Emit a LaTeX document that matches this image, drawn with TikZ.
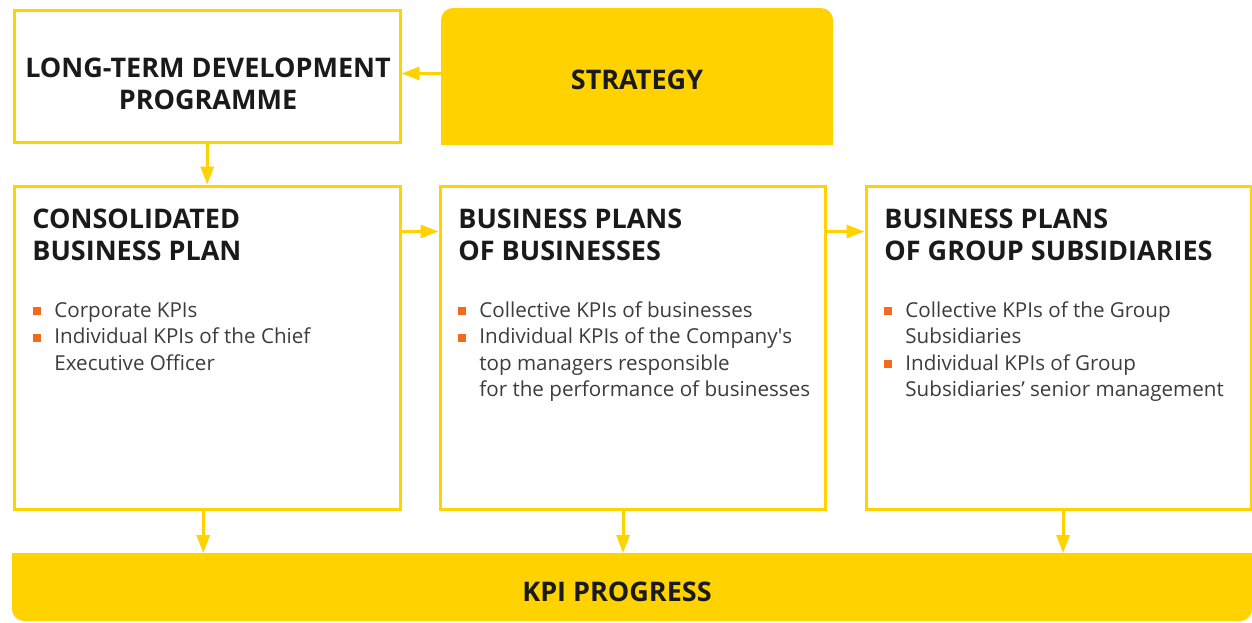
\documentclass[tikz,border=0pt]{standalone}
\usepackage{fontspec}
\setmainfont{Open Sans}
\usetikzlibrary{positioning,arrows.meta,backgrounds}

\definecolor{kpiyellow}{HTML}{FFD200}
\definecolor{kpiorange}{HTML}{F26A1B}
\definecolor{kpiblack}{HTML}{1A1A1A}
\definecolor{kpigrey}{HTML}{3C3C3C}

\newcommand{\kpibullet}{\makebox[10.5pt][l]{\raisebox{1pt}{\textcolor{kpiorange}{\rule{4pt}{4pt}}}}}
\newcommand{\kpiskip}{\hspace*{10.5pt}}
\newcommand{\kpilines}[1]{\begin{tabular}[t]{@{}l@{}}#1\end{tabular}}

\tikzset{
  >={Triangle[length=9pt,width=6.5pt]},
  planbox/.style={draw=kpiyellow, line width=1.5pt, anchor=north west, inner sep=0pt},
  fillbox/.style={fill=kpiyellow, anchor=north west, inner sep=0pt, outer sep=0pt, rounded corners=6pt},
  headtext/.style={anchor=base west, inner sep=0pt, text=kpiblack, font=\bfseries\fontsize{13.5}{16}\selectfont},
  titletext/.style={headtext, anchor=base},
  bodytext/.style={anchor=base west, inner sep=0pt, text=kpigrey, font=\fontsize{10.3}{13.25}\selectfont},
  flow/.style={draw=kpiyellow, line width=1.5pt, ->}
}

\begin{document}
\begin{tikzpicture}[x=0.5pt,y=-0.5pt]
  \useasboundingbox (0,0) rectangle (1252,622);

  % Draw the yellow boxes.
  \node[fillbox, minimum width=196pt, minimum height=68.5pt] (strategy) at (441,8) {};
  \node[fillbox, minimum width=620pt, minimum height=34pt] (kpi) at (12,553) {};
  \begin{scope}[on background layer]
    \fill[kpiyellow] (strategy.west) rectangle (strategy.south east);
    \fill[kpiyellow] (kpi.north west) rectangle (kpi.east);
  \end{scope}

  % Draw the plan boxes.
  \node[planbox, minimum width=192.75pt, minimum height=66pt] (ltdp) at (13,8.5) {};
  \node[planbox, minimum width=192.75pt, minimum height=161.5pt, below=20.5pt of ltdp] (cons) {};
  \node[planbox, minimum width=192.5pt, minimum height=161.5pt, right=18.5pt of cons] (bpb) {};
  \node[planbox, minimum width=192.5pt, minimum height=161.5pt, right=19pt of bpb] (grp) {};

  % Titles.
  \node[titletext] (strategytext) at (637,89) {STRATEGY};
  \node[titletext] (kpitext) at (617,601) {KPI PROGRESS};
  \node[titletext] (ltdptext) at (208,77)
    {\begin{tabular}[t]{@{}c@{}}LONG-TERM DEVELOPMENT\\PROGRAMME\end{tabular}};

  % Headings of the plans.
  \node[headtext] (conshead) at (32,228) {\kpilines{CONSOLIDATED\\BUSINESS PLAN}};
  \node[headtext] (bpbhead) at (458,228) {\kpilines{BUSINESS PLANS\\OF BUSINESSES}};
  \node[headtext] (grphead) at (884,228) {\kpilines{BUSINESS PLANS\\OF GROUP SUBSIDIARIES}};

  % KPI lists.
  \node[bodytext] (consitems) at (33,317) {\kpilines{%
    \kpibullet Corporate KPIs\\
    \kpibullet Individual KPIs of the Chief\\
    \kpiskip Executive Officer}};
  \node[bodytext] (bpbitems) at (458,317) {\kpilines{%
    \kpibullet Collective KPIs of businesses\\
    \kpibullet Individual KPIs of the Company\textquotesingle s\\
    \kpiskip top managers responsible\\
    \kpiskip for the performance of businesses}};
  \node[bodytext] (grpitems) at (884,317) {\kpilines{%
    \kpibullet Collective KPIs of the Group\\
    \kpiskip Subsidiaries\\
    \kpibullet Individual KPIs of Group\\
    \kpiskip Subsidiaries' senior management}};

  % Connectors.
  \draw[flow] ([yshift=1.5pt]strategy.west) -- ([yshift=1.5pt]strategy.west -| ltdp.east);
  \draw[flow] (ltdp.south) -- (cons.north);
  \draw[flow] ([yshift=-23.5pt]cons.north east) -- ([yshift=-23.5pt]bpb.north west);
  \draw[flow] ([yshift=-23.5pt]bpb.north east) -- ([yshift=-23.5pt]grp.north west);

  \path ([xshift=-2pt]cons.south) coordinate (consout)
        ([xshift=-4.75pt]bpb.south) coordinate (bpbout)
        ([xshift=2.25pt]grp.south) coordinate (grpout);
  \draw[flow] (consout) -- (consout |- kpi.north);
  \draw[flow] (bpbout) -- (bpbout |- kpi.north);
  \draw[flow] (grpout) -- (grpout |- kpi.north);
\end{tikzpicture}
\end{document}
